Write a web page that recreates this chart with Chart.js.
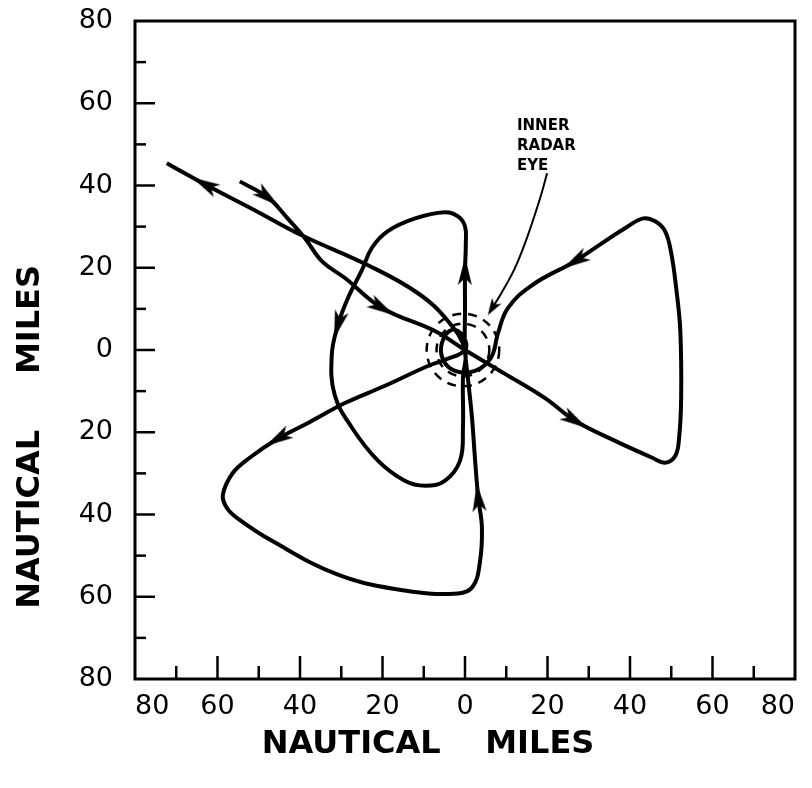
<!DOCTYPE html>
<html>
<head>
<meta charset="utf-8">
<script src="https://cdn.jsdelivr.net/npm/chart.js@4.4.1/dist/chart.umd.min.js"></script>
<style>
  html, body { margin: 0; padding: 0; background: #fff; }
</style>
</head>
<body>
<canvas id="trayectoria" width="812" height="788"></canvas>
<script>
// Trayectoria del avión (millas náuticas, centro del ojo en 0,0)
const trackX = [
  -54.6, -47.8, -43.0, -38.8, -34.7, -29.1, -20.1, -7.3, 0,
  9.7, 19.4, 26.7, 36.4, 45.4, 48.5, 51.0, 51.9, 52.4, 52.2, 51.2, 50.0, 48.5, 46.1, 43.2, 38.8, 32.8, 26.7, 16.3, 10.4, 8.0,
  6.3, 2.4, -2.4, -5.3, -5.6, -3.2, -0.5, 0,
  -4.9, -9.0, -19.4, -29.1, -37.6, -45.4, -52.2, -56.3, -58.7, -57.8, -55.3, -46.8, -30.8, -14.6, -1.7, 1.9, 3.6, 4.1, 3.2, 2.4, 1.7, 0.7, 0,
  0, 0, 0.2, 0, -1.7, -4.9, -12.1, -18.7, -22.6, -25.0, -28.4, -30.8, -32.3, -31.6, -27.4, -21.1, -14.6, -9.7, -4.9, -1.2, -0.5, -0.5, 0,
  -4.1, -11.4, -23.5, -39.6, -51.0, -63.1, -72.3
];
const trackY = [
  41.0, 37.1, 32.0, 27.2, 21.6, 17.5, 10.2, 4.6, 0,
  -5.8, -11.7, -17.2, -22.1, -26.2, -27.4, -25.7, -21.4, -11.7, 4.6, 15.0, 23.5, 28.9, 31.3, 32.0, 29.6, 25.7, 21.6, 15.8, 10.2, 4.1,
  -1.9, -5.1, -5.1, -2.4, 1.7, 4.9, 3.4, 0,
  -2.4, -3.9, -8.7, -12.9, -17.5, -21.6, -26.2, -29.9, -35.2, -38.3, -40.8, -46.4, -54.6, -58.5, -59.2, -57.5, -51.7, -43.2, -35.9, -26.2, -16.5, -6.8, 0,
  10.2, 19.2, 26.0, 30.1, 32.5, 33.5, 32.0, 28.9, 24.8, 19.4, 12.6, 6.1, -1.2, -10.9, -18.9, -26.9, -31.8, -33.0, -31.8, -26.9, -18.9, -6.8, 0,
  7.0, 13.8, 20.6, 27.9, 34.0, 40.3, 45.4
];
// puntos de la trayectoria que llevan flecha
const arrowAt = [1, 6, 11, 26, 43, 56, 62, 72, 89];

// flecha fina de la anotación "INNER RADAR EYE"
const pointerX = [19.9, 18.2, 15.0, 12.1, 8.7, 6.6];
const pointerY = [43.0, 36.9, 27.2, 19.9, 13.6, 10.2];

// radios de los círculos discontinuos del ojo
const eyeRadii = [6.4, 8.8];
const eyeLabel = ['INNER', 'RADAR', 'EYE'];

const axisMin = -80, axisMax = 80, axisStep = 20, minorStep = 10;

const FUENTE = '"DejaVu Sans", sans-serif';

function hacerFlecha(ancho, largo) {
  const c = document.createElement('canvas');
  c.width = ancho;
  c.height = largo;
  const g = c.getContext('2d');
  g.fillStyle = '#000';
  g.beginPath();
  g.moveTo(ancho / 2, 0);
  g.lineTo(ancho, largo);
  g.lineTo(ancho / 2, largo * 0.75);
  g.lineTo(0, largo);
  g.closePath();
  g.fill();
  return c;
}
const flechaGrande = hacerFlecha(14, 28);
const flechaChica = hacerFlecha(11, 17);

// rumbo en pantalla (grados, 0 = hacia arriba) usando las escalas
function rumbo(chart, xs, ys, i) {
  const sx = chart.scales.x, sy = chart.scales.y;
  const a = Math.max(0, i - 1), b = Math.min(xs.length - 1, i + 1);
  const dx = sx.getPixelForValue(xs[b]) - sx.getPixelForValue(xs[a]);
  const dy = sy.getPixelForValue(ys[b]) - sy.getPixelForValue(ys[a]);
  return Math.atan2(dx, -dy) * 180 / Math.PI;
}

const marco = {
  id: 'marco',
  beforeDatasetsDraw(chart) {
    const { ctx, chartArea: area, scales } = chart;
    ctx.save();
    ctx.strokeStyle = '#000';
    ctx.lineWidth = 3;
    ctx.strokeRect(area.left, area.top, area.right - area.left, area.bottom - area.top);

    // marcas hacia dentro
    ctx.lineWidth = 2.5;
    for (let v = axisMin + minorStep; v < axisMax; v += minorStep) {
      const mayor = v % axisStep === 0;
      const py = scales.y.getPixelForValue(v);
      ctx.beginPath();
      ctx.moveTo(area.left, py);
      ctx.lineTo(area.left + (mayor ? 20 : 11), py);
      ctx.stroke();
      const px = scales.x.getPixelForValue(v);
      ctx.beginPath();
      ctx.moveTo(px, area.bottom);
      ctx.lineTo(px, area.bottom - (mayor ? 23 : 13));
      ctx.stroke();
    }

    // círculos discontinuos del ojo
    const cx = scales.x.getPixelForValue(-0.5);
    const cy = scales.y.getPixelForValue(0);
    ctx.setLineDash([9, 7]);
    ctx.lineWidth = 2.5;
    eyeRadii.forEach(r => {
      const rp = scales.x.getPixelForValue(r) - scales.x.getPixelForValue(0);
      ctx.beginPath();
      ctx.arc(cx, cy, rp, 0, Math.PI * 2);
      ctx.stroke();
    });
    ctx.restore();
  },
  afterDraw(chart) {
    const { ctx, chartArea: area, scales } = chart;
    ctx.save();
    ctx.fillStyle = '#000';

    // rótulo del ojo
    ctx.font = 'bold 15px ' + FUENTE;
    ctx.textAlign = 'left';
    ctx.textBaseline = 'middle';
    const lx = scales.x.getPixelForValue(12.6);
    eyeLabel.forEach((t, k) => {
      ctx.fillText(t, lx, scales.y.getPixelForValue(54.5) + k * 20);
    });

    // títulos de los ejes
    ctx.font = 'bold 32px ' + FUENTE;
    ctx.textAlign = 'center';
    ctx.textBaseline = 'middle';
    ctx.fillText('NAUTICAL    MILES', area.left + (area.right - area.left) * 0.444, area.bottom + 66);
    ctx.translate(31, area.top + (area.bottom - area.top) * 0.632);
    ctx.rotate(-Math.PI / 2);
    ctx.fillText('NAUTICAL     MILES', 0, 0);
    ctx.restore();
  }
};

const ejeComun = {
  type: 'linear',
  min: axisMin,
  max: axisMax,
  grid: { display: false, drawTicks: false },
  border: { display: false },
  ticks: {
    stepSize: axisStep,
    color: '#000',
    font: { family: FUENTE, size: 27 },
    callback: v => Math.abs(v)
  }
};

new Chart(document.getElementById('trayectoria'), {
  type: 'scatter',
  data: {
    datasets: [
      {
        label: 'track',
        data: trackX.map((x, i) => ({ x: x, y: trackY[i] })),
        showLine: true,
        borderColor: '#000',
        borderWidth: 4,
        tension: 0.4,
        pointRadius: 0,
        fill: false
      },
      {
        label: 'flechas',
        data: arrowAt.map(i => ({ x: trackX[i], y: trackY[i] })),
        showLine: false,
        pointStyle: flechaGrande,
        pointRadius: 6,
        pointRotation: c => rumbo(c.chart, trackX, trackY, arrowAt[c.dataIndex])
      },
      {
        label: 'pointer',
        data: pointerX.map((x, i) => ({ x: x, y: pointerY[i] })),
        showLine: true,
        borderColor: '#000',
        borderWidth: 2,
        tension: 0.4,
        pointRadius: 0,
        fill: false
      },
      {
        label: 'pointer head',
        data: [{ x: pointerX[pointerX.length - 1], y: pointerY[pointerY.length - 1] }],
        showLine: false,
        pointStyle: flechaChica,
        pointRadius: 5,
        pointRotation: c => rumbo(c.chart, pointerX, pointerY, pointerX.length - 1)
      }
    ]
  },
  options: {
    responsive: false,
    animation: false,
    events: [],
    layout: { padding: { left: 0, right: 17, top: 21, bottom: 0 } },
    plugins: { legend: { display: false }, tooltip: { enabled: false } },
    scales: {
      x: Object.assign({}, ejeComun, {
        position: 'bottom',
        ticks: Object.assign({}, ejeComun.ticks, { padding: 12, align: 'inner', maxRotation: 0, autoSkip: false }),
        afterFit: s => { s.height = 109; s.paddingLeft = 0; s.paddingRight = 0; }
      }),
      y: Object.assign({}, ejeComun, {
        position: 'left',
        ticks: Object.assign({}, ejeComun.ticks, { padding: 22 }),
        afterFit: s => { s.width = 135; s.paddingTop = 0; s.paddingBottom = 0; }
      })
    }
  },
  plugins: [marco]
});
</script>
</body>
</html>
